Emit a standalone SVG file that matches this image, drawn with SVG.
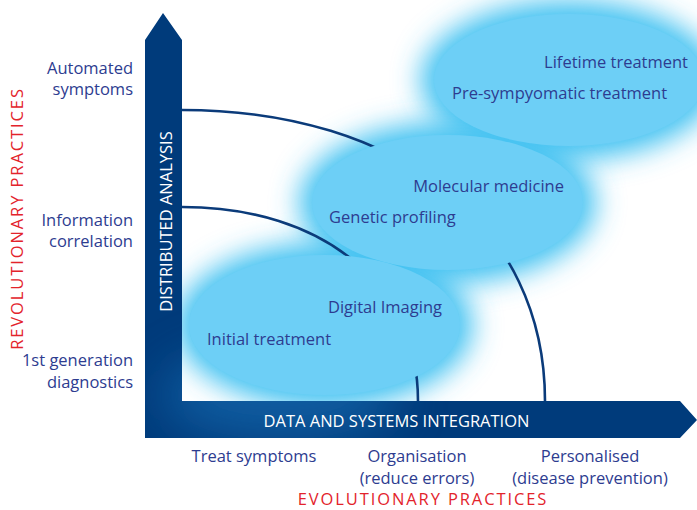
<svg xmlns="http://www.w3.org/2000/svg" width="697" height="510" viewBox="0 0 697 510">
<style>
.lbl{font-family:"Open Sans","Liberation Sans",sans-serif;font-size:16.5px;fill:#2d3c90}
.cap{font-family:"Open Sans","Liberation Sans",sans-serif;font-size:16.5px;fill:#ffffff}
.red{font-family:"Open Sans","Liberation Sans",sans-serif;font-size:16.5px;fill:#e3232b;letter-spacing:1.9px}
.arc{fill:none;stroke:#0b3b7a;stroke-width:2.6}
.blob{fill:#6dcff6}
.halo{fill:#3fc1f1;filter:url(#blur)}
</style>
<defs>
<filter id="blur" x="-40%" y="-60%" width="180%" height="220%"><feGaussianBlur stdDeviation="14"/></filter>
<filter id="blur2" x="-50%" y="-80%" width="200%" height="260%"><feGaussianBlur stdDeviation="25"/></filter>
<clipPath id="barClip"><path d="M145,40 L163,13 L182,40 L182,401 L680,401 L697,420 L680,438 L145,438 Z"/></clipPath>
</defs>
<rect width="697" height="510" fill="#ffffff"/>
<g id="halos">
<ellipse class="halo" cx="569" cy="80" rx="148" ry="79"/>
<ellipse class="halo" cx="447.5" cy="202.5" rx="148" ry="80"/>
<ellipse class="halo" cx="324.5" cy="325" rx="148" ry="82"/>
</g>
<g id="connectors">
<path class="arc" d="M182,110 C400,110 545,226 545,401"/>
<path class="arc" d="M182,207 C324,207 418,285 418,401"/>
</g>
<g id="node-lifetime">
<ellipse class="blob" cx="569" cy="80" rx="135" ry="66"/>
<text class="lbl" x="688" y="68" text-anchor="end">Lifetime treatment</text>
<text class="lbl" x="452" y="99">Pre-sympyomatic treatment</text>
</g>
<g id="node-molecular">
<ellipse class="blob" cx="447.5" cy="202.5" rx="135.5" ry="67.5"/>
<text class="lbl" x="564" y="192" text-anchor="end">Molecular medicine</text>
<text class="lbl" x="329" y="223">Genetic profiling</text>
</g>
<g id="node-digital">
<ellipse class="blob" cx="324.5" cy="325" rx="135.5" ry="70"/>
<text class="lbl" x="442" y="313" text-anchor="end">Digital Imaging</text>
<text class="lbl" x="207" y="345">Initial treatment</text>
</g>
<g id="axes">
<path d="M145,40 L163,13 L182,40 L182,401 L680,401 L697,420 L680,438 L145,438 Z" fill="#003b7b"/>
<g clip-path="url(#barClip)">
<ellipse cx="280" cy="395" rx="120" ry="45" fill="#1b78c0" opacity="0.55" filter="url(#blur2)"/>
</g>
<text class="cap" x="172" y="221.5" text-anchor="middle" transform="rotate(-90 172 221.5)">DISTRIBUTED ANALYSIS</text>
<text class="cap" x="396.5" y="427" text-anchor="middle">DATA AND SYSTEMS INTEGRATION</text>
</g>
<g id="y-labels">
<text class="red" x="23" y="218.5" text-anchor="middle" transform="rotate(-90 23 218.5)">REVOLUTIONARY PRACTICES</text>
<text class="lbl" x="133" y="74" text-anchor="end">Automated</text>
<text class="lbl" x="133" y="95" text-anchor="end">symptoms</text>
<text class="lbl" x="133" y="226" text-anchor="end">Information</text>
<text class="lbl" x="133" y="247" text-anchor="end">correlation</text>
<text class="lbl" x="133" y="366" text-anchor="end">1st generation</text>
<text class="lbl" x="133" y="388" text-anchor="end">diagnostics</text>
</g>
<g id="x-labels">
<text class="lbl" x="254" y="462" text-anchor="middle">Treat symptoms</text>
<text class="lbl" x="417" y="462" text-anchor="middle">Organisation</text>
<text class="lbl" x="417" y="484" text-anchor="middle">(reduce errors)</text>
<text class="lbl" x="590" y="462" text-anchor="middle">Personalised</text>
<text class="lbl" x="590" y="484" text-anchor="middle">(disease prevention)</text>
<text class="red" x="423" y="505" text-anchor="middle">EVOLUTIONARY PRACTICES</text>
</g>
</svg>
